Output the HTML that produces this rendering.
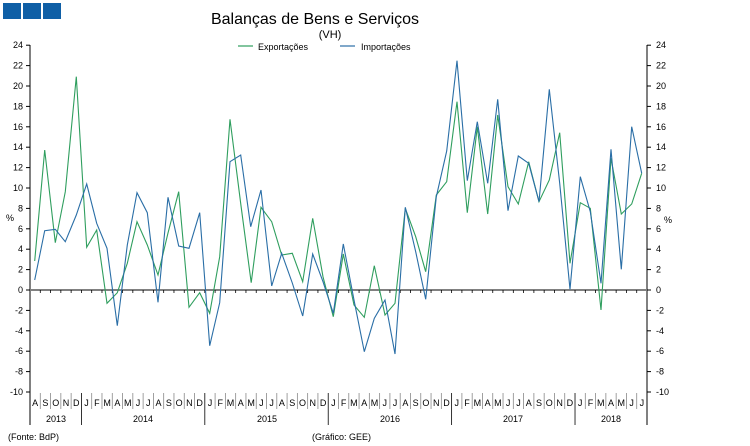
<!DOCTYPE html>
<html><head><meta charset="utf-8"><style>
body{margin:0;background:#fff;width:750px;height:446px;overflow:hidden}
svg{display:block;font-family:"Liberation Sans",sans-serif}
</style></head><body>
<svg width="750" height="446" viewBox="0 0 750 446" xmlns="http://www.w3.org/2000/svg">
<rect x="3" y="3" width="18" height="16" fill="#0f5fa6"/>
<rect x="23" y="3" width="18" height="16" fill="#0f5fa6"/>
<rect x="43" y="3" width="18" height="16" fill="#0f5fa6"/>
<text x="315" y="24" font-size="16" text-anchor="middle">Balanças de Bens e Serviços</text>
<text x="330" y="38" font-size="11" text-anchor="middle">(VH)</text>
<line x1="238" y1="46" x2="253" y2="46" stroke="#2f9e5e" stroke-width="1.2"/>
<text x="258" y="50" font-size="9">Exportações</text>
<line x1="340" y1="46" x2="355" y2="46" stroke="#2a6ea6" stroke-width="1.2"/>
<text x="361" y="50" font-size="9">Importações</text>
<g id="axes" stroke="#000" stroke-width="1">
<line x1="30" y1="45" x2="30" y2="425"/>
<line x1="647" y1="45" x2="647" y2="425"/>
</g>
<g font-size="9" id="yl"></g>
<text x="6" y="221" font-size="9">%</text>
<text x="664" y="223" font-size="9">%</text>
<line x1="30" y1="290" x2="647" y2="290" stroke="#808080" stroke-width="2"/>
<g id="xt" stroke="#000" stroke-width="0.8"></g>
<g id="ml" font-size="9" text-anchor="middle"></g>
<g font-size="9" text-anchor="middle">
<text x="56" y="422">2013</text><text x="143" y="422">2014</text><text x="267" y="422">2015</text><text x="390" y="422">2016</text><text x="513" y="422">2017</text><text x="611" y="422">2018</text>
</g>
<text x="8" y="440" font-size="9">(Fonte: BdP)</text>
<text x="312" y="440" font-size="9">(Gráfico: GEE)</text>
<polyline fill="none" stroke="#2f9e5e" stroke-width="1.1" points="34.7,261 44.7,150 55.3,242.7 65.3,191.7 76.3,76.7 86.7,247.3 96.7,230 107,303.3 117.3,292.7 127.3,263.3 137,221.7 147.3,245 158,275 168,233 178.7,191.7 189,307.3 199.7,292.7 209.7,313.3 219.7,256.7 230,119.3 240.9,205 251.2,282.7 261,207.3 271.7,221.7 281.7,255 292.3,253.3 302.7,281.7 312.7,218.3 323,276.7 333.3,316.7 343.3,254 354,305 364.3,317.3 374.3,265.7 385,315 395,303.3 405.3,208.3 415.7,236.7 425.7,271.7 436.3,195 446.7,181.7 457,101.7 467.3,212.7 477.3,126.7 487.7,214 497.7,115 508,186.7 518.3,204 528.7,161.7 539,201.7 549.3,180 559.7,132.7 570,263.3 580.3,202.7 590.3,208.3 601,310 611,158.3 621.3,214 631.7,204 641.7,173.3"/>
<polyline fill="none" stroke="#2a6ea6" stroke-width="1.1" points="34.7,280 44.7,230.7 55.3,229.3 65.3,241.7 76.3,215 86.7,184 96.7,223.3 107,248.3 117.3,325.7 127.3,245 137,192.7 147.3,212.7 158,302.3 168,197.3 178.7,246 189,248.3 199.7,212.7 209.7,345.7 219.7,302.7 230,161.7 240.7,155 250.7,226.7 261,190 271.7,286 281.7,253.3 292.3,283 302.7,316 312.7,254 323,281.7 333.3,313.3 343.3,244 354,300 364.3,351.7 374.3,318.3 385,300 395,354 405.3,207.3 415.7,251.7 425.7,299.3 436.3,196.7 446.7,151 457,60.7 467.3,180.7 477.3,121.7 487.7,183.3 497.7,99.3 508,210.7 518.3,156 528.7,163.3 539,201.7 549.3,89.3 559.7,183.3 570,289.3 580.3,176.7 590.3,211.7 601,283.3 611,149.3 621.3,269.3 631.7,126.7 641.7,173.3"/>
<script>
var ns="http://www.w3.org/2000/svg";
function el(p,t,a,txt){var e=document.createElementNS(ns,t);for(var k in a)e.setAttribute(k,a[k]);if(txt!=null)e.textContent=txt;p.appendChild(e);}
var yl=document.getElementById('yl'),ax=document.getElementById('axes');
for(var v=-10;v<=24;v+=2){var y=290-v*10.2;
el(ax,'line',{x1:26,y1:y,x2:30,y2:y});el(ax,'line',{x1:647,y1:y,x2:651,y2:y});
el(yl,'text',{x:23,y:y+3,'text-anchor':'end'},String(v));
el(yl,'text',{x:656,y:y+3},String(v));}
var xt=document.getElementById('xt'),ml=document.getElementById('ml');
var m="ASONDJFMAMJJASONDJFMAMJJASONDJFMAMJJASONDJFMAMJJASONDJFMAMJJ";
var w=617/60;
for(var i=0;i<60;i++){var x=30+i*w;
if(i>0){el(xt,'line',{x1:x,y1:290,x2:x,y2:293});
var yr=(i-5)%12==0;
el(xt,'line',{x1:x,y1:393,x2:x,y2:yr?425:409,'stroke':yr?'#000':'#888'});}
el(ml,'text',{x:x+w/2,y:406},m[i]);}
</script>
</svg>
</body></html>
